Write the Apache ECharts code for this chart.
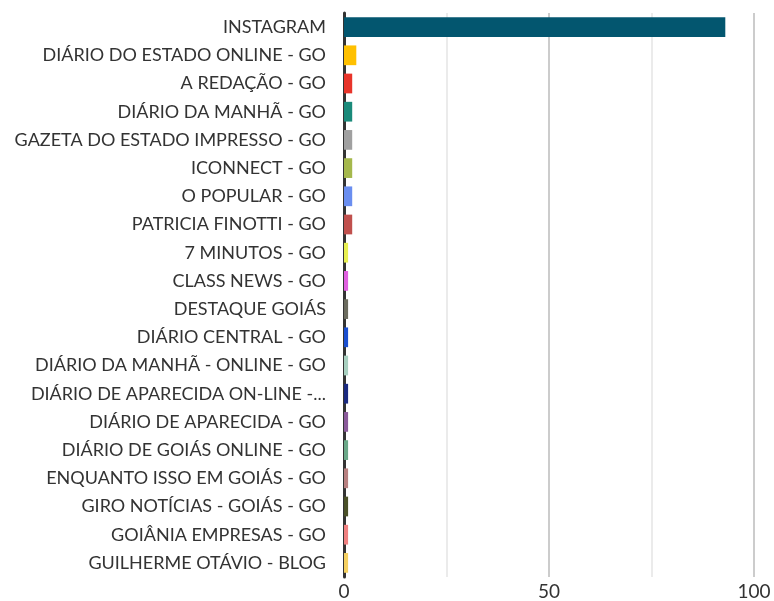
<!DOCTYPE html>
<html>
<head>
<meta charset="utf-8">
<script src="https://cdn.jsdelivr.net/npm/echarts@6/dist/echarts.min.js"></script>
<style>
html, body { margin: 0; padding: 0; background: #fff; }
#chart { width: 774px; height: 601px; }
</style>
</head>
<body>
<div id="chart"></div>
<script>
// categorias (de cima para baixo)
var categories = [
    'INSTAGRAM',
    'DIÁRIO DO ESTADO ONLINE - GO',
    'A REDAÇÃO - GO',
    'DIÁRIO DA MANHÃ - GO',
    'GAZETA DO ESTADO IMPRESSO - GO',
    'ICONNECT - GO',
    'O POPULAR - GO',
    'PATRICIA FINOTTI - GO',
    '7 MINUTOS - GO',
    'CLASS NEWS - GO',
    'DESTAQUE GOIÁS',
    'DIÁRIO CENTRAL - GO',
    'DIÁRIO DA MANHÃ - ONLINE - GO',
    'DIÁRIO DE APARECIDA ON-LINE -...',
    'DIÁRIO DE APARECIDA - GO',
    'DIÁRIO DE GOIÁS ONLINE - GO',
    'ENQUANTO ISSO EM GOIÁS - GO',
    'GIRO NOTÍCIAS - GOIÁS - GO',
    'GOIÂNIA EMPRESAS - GO',
    'GUILHERME OTÁVIO - BLOG'
];
var values = [93, 3, 2, 2, 2, 2, 2, 2, 1, 1, 1, 1, 1, 1, 1, 1, 1, 1, 1, 1];
var barColors = [
    '#03566f', '#ffc000', '#e8342a', '#1a8a7a', '#a0a0a0',
    '#a5b84c', '#6a8ef0', '#c0504d', '#e8f050', '#e060e0',
    '#6b6b5e', '#1a4fd0', '#a8d0c0', '#1a2a80', '#8a5a9a',
    '#6aa888', '#b88080', '#4a5028', '#f08080', '#f5d060'
];
var xTicks = [0, 50, 100];

var myChart = echarts.init(document.getElementById('chart'));

var option = {
    animation: false,
    grid: {
        left: 344,
        right: 20,
        top: 13,
        bottom: 23,
        containLabel: false
    },
    xAxis: {
        type: 'value',
        min: xTicks[0],
        max: xTicks[xTicks.length - 1],
        interval: xTicks[1] - xTicks[0],
        axisLine: { show: false },
        axisTick: { show: false },
        axisLabel: {
            color: '#333',
            fontSize: 19,
            fontFamily: 'Lato',
            margin: 5
        },
        splitLine: { lineStyle: { color: '#cccccc', width: 2 } },
        minorTick: { show: false, splitNumber: 2 },
        minorSplitLine: { show: true, lineStyle: { color: '#ebebeb', width: 2 } }
    },
    yAxis: {
        type: 'category',
        inverse: true,
        data: categories,
        axisLine: { lineStyle: { color: '#333', width: 3 } },
        axisTick: { show: false },
        axisLabel: {
            color: '#333',
            fontSize: 18,
            fontFamily: 'Lato',
            margin: 18
        }
    },
    series: [{
        type: 'bar',
        barCategoryGap: '30%',
        data: values.map(function (v, i) {
            return { value: v, itemStyle: { color: barColors[i] } };
        })
    }]
};

myChart.setOption(option);
</script>
</body>
</html>
